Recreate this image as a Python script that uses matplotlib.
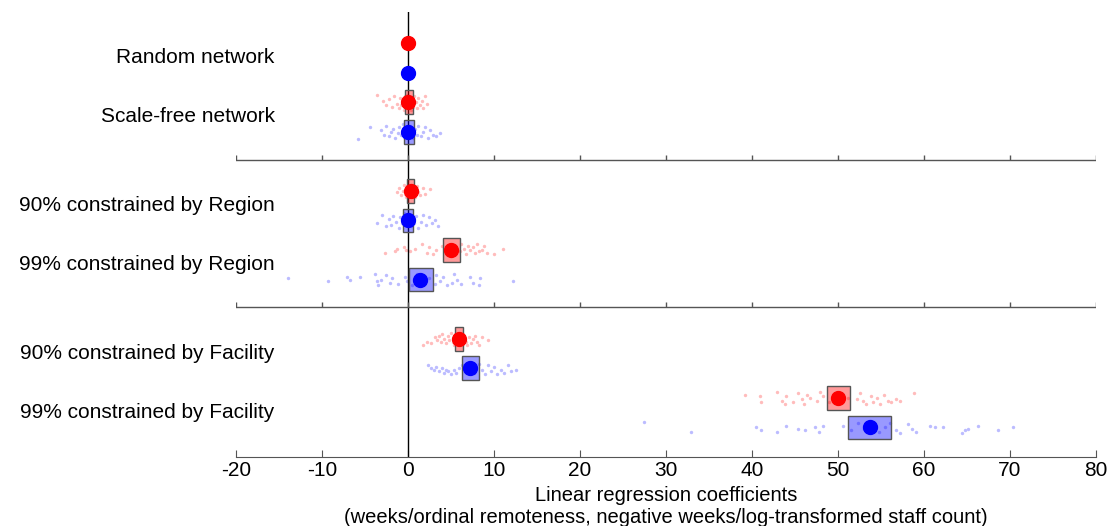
import matplotlib
matplotlib.use("Agg")
import matplotlib.pyplot as plt
import numpy as np

plt.rcParams['font.family'] = ['Liberation Sans', 'DejaVu Sans']

labels = ["Random network", "Scale-free network",
          "90% constrained by Region", "99% constrained by Region",
          "90% constrained by Facility", "99% constrained by Facility"]

# summary values (dot = centre, box = lo..hi)
red_mean = [0, 0, 0.35, 5.0, 5.9, 50.0]
red_lo = [0, -0.35, -0.15, 4.1, 5.45, 48.7]
red_hi = [0, 0.6, 0.7, 6.0, 6.4, 51.4]
blue_mean = [0, 0, -0.05, 1.45, 7.2, 53.7]
blue_lo = [0, -0.5, -0.6, 0.1, 6.25, 51.2]
blue_hi = [0, 0.7, 0.55, 2.85, 8.2, 56.2]

# individual runs (x value, vertical jitter)
sf_red_x = [-3.6, -2.9, -2.5, -2.2, -1.9, -1.6, -1.3, -1.1, -0.9, -0.8, -0.6, -0.5, -0.4, -0.3, -0.2, -0.1,
            0.0, 0.1, 0.2, 0.3, 0.4, 0.5, 0.6, 0.7, 0.9, 1.0, 1.2, 1.4, 1.6, 1.8, 2.0, 2.2]
sf_red_dy = [-0.25, -0.05, 0.1, -0.1, 0.15, -0.2, 0.05, 0.2, -0.15, 0.1, -0.05, 0.25, -0.2, 0.15, 0.0, -0.25,
             0.2, 0.1, -0.15, 0.05, 0.25, -0.1, 0.15, -0.2, 0.0, 0.2, -0.15, 0.1, -0.05, 0.2, -0.2, 0.05]
sf_blue_x = [-5.8, -4.4, -3.1, -2.8, -2.5, -2.2, -2.0, -1.7, -1.5, -1.2, -1.0, -0.8, -0.6, -0.4, -0.2,
             0.0, 0.2, 0.4, 0.6, 0.8, 1.0, 1.2, 1.5, 1.8, 2.0, 2.3, 2.6, 2.9, 3.2, 3.7]
sf_blue_dy = [0.25, -0.15, -0.05, 0.1, -0.2, 0.15, 0.0, -0.1, 0.2, 0.05, -0.15, 0.1, -0.25, 0.2, -0.05,
              0.15, -0.2, 0.05, 0.2, -0.1, 0.1, -0.2, 0.15, 0.0, -0.15, 0.2, -0.05, 0.1, 0.15, 0.05]

r90_red_x = [-1.3, -1.0, -0.8, -0.6, -0.5, -0.3, -0.2, -0.1, 0.0, 0.1, 0.2, 0.3, 0.4, 0.5, 0.6, 0.7,
             0.8, 1.0, 1.2, 1.4, 1.7, 2.0, 2.6]
r90_red_dy = [0.05, -0.1, 0.15, 0.0, -0.2, 0.1, 0.2, -0.15, 0.05, -0.05, 0.2, -0.2, 0.1, 0.15, -0.1, 0.0,
              0.2, -0.15, 0.05, 0.15, -0.1, 0.1, -0.05]
r90_blue_x = [-3.6, -3.0, -2.6, -2.2, -2.0, -1.7, -1.4, -1.1, -0.9, -0.7, -0.5, -0.3, -0.1, 0.1, 0.3,
              0.5, 0.7, 0.9, 1.2, 1.5, 1.8, 2.1, 2.4, 2.8, 3.1, 3.5]
r90_blue_dy = [0.1, -0.2, 0.2, -0.05, 0.15, -0.15, 0.05, 0.25, -0.1, 0.1, -0.25, 0.15, 0.0, -0.2, 0.2,
               -0.05, 0.1, -0.15, 0.25, 0.05, -0.2, 0.15, -0.1, 0.1, 0.0, 0.2]

r99_red_x = [-2.7, -1.5, -1.3, -0.5, -0.2, 0.2, 0.8, 1.6, 2.2, 2.5, 2.9, 3.3, 4.0, 4.5, 5.0, 5.5,
             6.0, 6.2, 6.5, 6.8, 7.0, 7.2, 7.6, 7.8, 8.0, 8.2, 8.6, 8.8, 9.2, 10.0, 11.1]
r99_red_dy = [0.1, 0.05, -0.05, -0.1, 0.0, 0.05, -0.05, -0.2, 0.1, -0.1, 0.15, 0.0, -0.15, 0.1, 0.2, -0.1,
              0.05, -0.2, -0.05, 0.15, -0.15, 0.0, -0.1, 0.1, -0.2, 0.05, 0.0, -0.15, 0.1, 0.15, -0.05]
r99_blue_x = [-14.0, -9.3, -7.1, -6.7, -5.6, -3.8, -3.6, -3.45, -3.1, -2.6, -2.1, -1.9, -1.2, -0.35, -0.16,
              0.5, 1.0, 1.8, 2.5, 3.1, 3.3, 3.7, 4.1, 4.5, 5.1, 5.3, 5.7, 6.2, 7.2, 7.6, 8.2, 8.4, 12.2]
r99_blue_dy = [-0.05, 0.05, -0.1, 0.0, -0.1, -0.2, 0.05, 0.2, 0.0, -0.15, 0.1, -0.05, 0.15, -0.1, 0.05,
               0.2, -0.2, 0.1, -0.05, 0.15, -0.15, 0.05, -0.1, 0.2, 0.1, -0.2, 0.0, 0.15, -0.1, 0.1, 0.2, -0.05, 0.05]

f90_red_x = [1.8, 2.2, 2.7, 3.1, 3.4, 3.6, 3.8, 4.0, 4.2, 4.4, 4.6, 4.8, 5.0, 5.2, 5.4, 5.6, 5.8, 6.0,
             6.2, 6.5, 6.7, 6.9, 7.1, 7.3, 7.6, 7.8, 8.0, 8.3, 8.6, 9.3]
f90_red_dy = [0.2, 0.1, 0.15, -0.05, 0.05, -0.1, 0.1, -0.15, 0.0, 0.15, -0.1, 0.05, -0.2, 0.1, 0.2, -0.05,
              0.15, -0.15, 0.05, -0.1, 0.1, 0.2, -0.05, 0.15, 0.0, -0.1, 0.1, 0.2, -0.05, 0.05]
f90_blue_x = [2.3, 2.7, 3.0, 3.3, 3.6, 3.9, 4.2, 4.4, 4.7, 5.0, 5.3, 5.6, 5.9, 6.3, 6.7, 7.2, 7.7, 8.2,
              8.6, 8.9, 9.3, 9.6, 10.0, 10.4, 10.8, 11.2, 11.6, 12.0, 12.6]
f90_blue_dy = [-0.1, 0.0, 0.05, -0.05, 0.1, 0.0, 0.15, 0.05, 0.1, 0.2, 0.05, 0.15, 0.0, -0.1, 0.1, -0.05,
               0.15, -0.15, 0.05, 0.2, -0.1, 0.1, -0.05, 0.2, 0.05, 0.15, -0.1, 0.1, 0.05]

f99_red_x = [39.2, 40.9, 41.1, 42.9, 43.5, 43.8, 44.0, 44.8, 45.4, 45.8, 46.1, 46.4, 46.7, 47.5, 47.9,
             48.3, 49.0, 49.8, 50.5, 51.2, 52.2, 52.5, 52.9, 53.3, 53.8, 54.1, 54.5, 54.9, 55.3, 55.8,
             56.2, 56.8, 57.2, 58.8]
f99_red_dy = [-0.1, -0.05, 0.15, -0.2, 0.1, 0.2, -0.05, 0.15, -0.15, 0.05, 0.2, -0.1, 0.0, 0.1, -0.2,
              -0.05, 0.15, -0.1, 0.1, 0.0, 0.05, -0.15, 0.1, 0.2, -0.05, 0.15, 0.0, 0.2, -0.1, 0.1,
              0.15, 0.05, 0.1, -0.15]
f99_blue_x = [27.4, 32.9, 40.5, 41.1, 42.9, 44.0, 45.4, 46.2, 47.3, 47.8, 48.3, 50.6, 51.5, 52.3, 53.0,
              54.0, 54.8, 55.5, 56.0, 56.8, 57.2, 58.1, 58.6, 59.1, 60.7, 61.3, 62.2, 64.4, 64.8, 65.1,
              66.3, 68.6, 70.4]
f99_blue_dy = [-0.2, 0.15, 0.0, 0.1, 0.15, -0.05, 0.05, 0.1, 0.0, 0.15, -0.05, -0.05, 0.1, -0.15, 0.05,
               -0.1, 0.15, 0.0, -0.15, 0.1, 0.2, -0.1, 0.05, 0.15, -0.05, 0.0, 0.0, 0.2, 0.1, 0.05,
               -0.05, 0.1, 0.0]

red_runs = [([], []), (sf_red_x, sf_red_dy), (r90_red_x, r90_red_dy), (r99_red_x, r99_red_dy),
            (f90_red_x, f90_red_dy), (f99_red_x, f99_red_dy)]
blue_runs = [([], []), (sf_blue_x, sf_blue_dy), (r90_blue_x, r90_blue_dy), (r99_blue_x, r99_blue_dy),
             (f90_blue_x, f90_blue_dy), (f99_blue_x, f99_blue_dy)]

xticks = np.arange(-20, 81, 10)

fig = plt.figure(figsize=(11.1, 5.26), dpi=100)
ax = fig.add_axes([0.2126, 0.1312, 0.7748, 0.846])
ax.set_xlim(-20, 80)
ax.set_ylim(14.0, -1.05)

# row layout: 3 sections of 2 conditions, each with a red and a blue row
red_y = np.array([5 * (i // 2) + 2 * (i % 2) for i in range(len(labels))])
blue_y = red_y + 1

ax.axvline(0, color="black", lw=1, zorder=2)

for i in range(len(labels)):
    for y, runs, mean, lo, hi, col, light in [
            (red_y[i], red_runs[i], red_mean[i], red_lo[i], red_hi[i], "red", "#ffbcbc"),
            (blue_y[i], blue_runs[i], blue_mean[i], blue_lo[i], blue_hi[i], "blue", "#bcbcff")]:
        xs, dys = runs
        if len(xs):
            ax.scatter(xs, y + np.array(dys), s=6, color=light, linewidths=0, zorder=1)
        if hi > lo:
            ax.barh(y, hi - lo, left=lo, height=0.8, color=col, alpha=0.4,
                    edgecolor="none", zorder=3)
            ax.barh(y, hi - lo, left=lo, height=0.8, fill=False,
                    edgecolor="#555555", lw=1, zorder=3)
        ax.plot(mean, y, "o", color=col, markersize=10, zorder=4)
    ax.text(-15.5, (red_y[i] + blue_y[i]) / 2, labels[i], ha="right", va="center", fontsize=15)

# section separators with tick marks
for s in [1, 2]:
    ysep = 5 * s - 1.06
    ax.plot([-20, 80], [ysep, ysep], color="#555555", lw=1, zorder=2)
    ax.vlines(xticks, ysep, ysep - 0.17, color="#555555", lw=1, zorder=2)

for sp in ["top", "left", "right"]:
    ax.spines[sp].set_visible(False)
ax.spines["bottom"].set_color("#555555")
ax.set_yticks([])
ax.set_xticks(xticks)
ax.set_xticklabels([str(t) for t in xticks])
ax.tick_params(axis="x", direction="in", length=5, color="#555555", labelsize=15, pad=3)
ax.set_xlabel("Linear regression coefficients\n(weeks/ordinal remoteness, negative weeks/log-transformed staff count)",
              fontsize=14.5, linespacing=1.2, labelpad=4)

fig.savefig("out.png", dpi=100)
